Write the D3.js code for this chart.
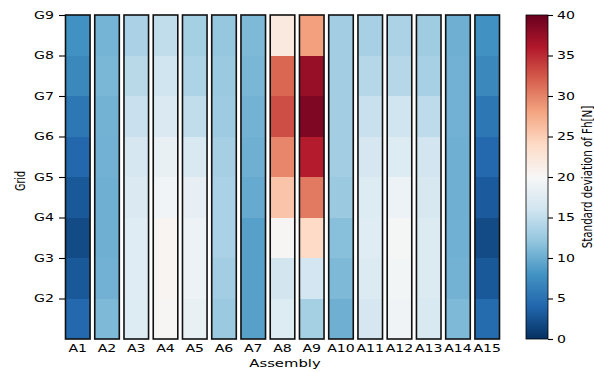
<!DOCTYPE html>
<html>
<head>
<meta charset="utf-8">
<script src="https://cdn.jsdelivr.net/npm/d3@7"></script>
<style>
  body { margin: 0; background: #fff; }
  text { font-family: "DejaVu Sans", sans-serif; fill: #000; }
</style>
</head>
<body>
<div id="chart"></div>
<script>
// assemblies along x, grids along y
var assemblies = ['A1', 'A2', 'A3', 'A4', 'A5', 'A6', 'A7', 'A8', 'A9', 'A10', 'A11', 'A12', 'A13', 'A14', 'A15'];
var gridTicks = [2, 3, 4, 5, 6, 7, 8, 9];
var cbarTicks = [0, 5, 10, 15, 20, 25, 30, 35, 40];

// std deviation per assembly, rows from bottom (G1-G2) to top (G8-G9)
var stdDev = [
  [4.3, 3.0, 2.0, 3.0, 4.2, 5.5, 7.0, 7.8],
  [11.0, 10.4, 10.2, 10.2, 10.4, 10.5, 10.8, 10.6],
  [17.3, 17.5, 17.5, 17.0, 16.5, 15.5, 14.5, 13.5],
  [20.3, 20.5, 20.5, 19.3, 18.5, 17.0, 16.0, 15.0],
  [18.5, 18.8, 18.8, 18.3, 16.8, 15.0, 13.7, 13.2],
  [12.5, 13.0, 13.5, 13.5, 13.3, 12.8, 12.5, 12.2],
  [9.0, 9.0, 9.0, 9.8, 10.2, 10.5, 10.8, 11.0],
  [17.3, 16.2, 20.3, 25.7, 29.8, 33.0, 31.6, 22.0],
  [13.2, 16.3, 24.0, 30.5, 35.8, 38.8, 37.5, 28.3],
  [10.2, 11.0, 11.5, 12.5, 13.0, 13.0, 13.0, 13.0],
  [16.5, 17.2, 17.5, 17.3, 16.5, 15.5, 14.2, 13.4],
  [19.2, 19.5, 19.7, 18.8, 17.3, 16.0, 14.3, 13.6],
  [16.8, 17.2, 17.2, 16.7, 16.1, 14.8, 13.4, 12.9],
  [11.0, 10.5, 10.3, 10.2, 10.2, 10.4, 10.4, 10.2],
  [4.5, 3.0, 2.0, 3.2, 4.3, 5.5, 7.0, 7.8]
];

var width = 594, height = 372;
var plotTop = 15, plotBottom = 339, plotLeft = 65.5, plotRight = 499.5;
var stretch = 1.41; // text in the picture is wider than tall

// RdBu_r
var rdbu = ['#053061', '#2166ac', '#4393c3', '#92c5de', '#d1e5f0', '#f7f7f7', '#fddbc7', '#f4a582', '#d6604d', '#b2182b', '#67001f'];
var color = d3.scaleLinear()
  .domain(d3.range(11).map(function (i) { return i * 4; }))
  .range(rdbu)
  .clamp(true);

var svg = d3.select('#chart').append('svg')
  .attr('width', width)
  .attr('height', height);

var x = d3.scaleBand()
  .domain(assemblies)
  .range([plotLeft, plotRight])
  .paddingInner(0.16)
  .paddingOuter(0);

var y = d3.scaleLinear()
  .domain([1, 9])
  .range([plotBottom, plotTop]);

// widen a text horizontally around its own anchor point
function widen(sel, size) {
  sel.each(function () {
    var t = d3.select(this);
    var tx = +t.attr('x') || 0;
    t.attr('font-size', size + 'px')
      .attr('font-family', 'DejaVu Sans')
      .attr('transform', 'translate(' + tx + ',0) scale(' + stretch + ',1) translate(' + (-tx) + ',0)');
  });
}

// cells
assemblies.forEach(function (a, i) {
  var g = svg.append('g');
  g.selectAll('rect')
    .data(stdDev[i])
    .enter().append('rect')
    .attr('x', x(a))
    .attr('width', x.bandwidth())
    .attr('y', function (d, k) { return y(k + 2); })
    .attr('height', function (d, k) { return y(k + 1) - y(k + 2); })
    .attr('fill', function (d) { return color(d); })
    .attr('shape-rendering', 'crispEdges');
  // outline of the column
  g.append('rect')
    .attr('x', x(a))
    .attr('y', y(9))
    .attr('width', x.bandwidth())
    .attr('height', y(1) - y(9))
    .attr('fill', 'none')
    .attr('stroke', '#111')
    .attr('stroke-width', 1.6);
});

// y axis
var yAxisG = svg.append('g')
  .attr('transform', 'translate(' + (plotLeft - 0.5) + ',0)')
  .call(d3.axisLeft(y).tickValues(gridTicks).tickSize(6).tickPadding(5)
    .tickFormat(function (d) { return 'G' + d; }));
yAxisG.select('.domain').remove();
yAxisG.selectAll('line').attr('stroke-width', 1.1);
yAxisG.selectAll('text').call(widen, 10);

// x axis labels
var xAxisG = svg.append('g')
  .attr('transform', 'translate(0,' + plotBottom + ')')
  .call(d3.axisBottom(x).tickSize(0).tickPadding(6));
xAxisG.select('.domain').remove();
xAxisG.selectAll('.tick text').each(function () {
  d3.select(this).attr('transform', 'scale(' + stretch + ',1)')
    .attr('font-size', '10px').attr('font-family', 'DejaVu Sans');
});

svg.append('text')
  .attr('transform', 'translate(285,367) scale(' + stretch + ',1)')
  .attr('text-anchor', 'middle')
  .attr('font-size', '10.5px')
  .text('Assembly');

svg.append('text')
  .attr('transform', 'translate(25,181) scale(' + stretch + ',1) rotate(-90)')
  .attr('text-anchor', 'middle')
  .attr('font-size', '9.5px')
  .text('Grid');

// colorbar
var cbX = 526, cbW = 22;
var cb = d3.scaleLinear().domain([0, 40]).range([plotBottom, plotTop]);
var defs = svg.append('defs');
var grad = defs.append('linearGradient')
  .attr('id', 'cbgrad')
  .attr('x1', 0).attr('y1', 1).attr('x2', 0).attr('y2', 0);
grad.selectAll('stop')
  .data(color.domain())
  .enter().append('stop')
  .attr('offset', function (d) { return d / 40; })
  .attr('stop-color', function (d) { return color(d); });
svg.append('rect')
  .attr('x', cbX)
  .attr('y', plotTop)
  .attr('width', cbW)
  .attr('height', plotBottom - plotTop)
  .attr('fill', 'url(#cbgrad)')
  .attr('stroke', '#000')
  .attr('stroke-width', 0.8);

var cbAxisG = svg.append('g')
  .attr('transform', 'translate(' + (cbX + cbW) + ',0)')
  .call(d3.axisRight(cb).tickValues(cbarTicks).tickSize(5).tickPadding(4));
cbAxisG.select('.domain').remove();
cbAxisG.selectAll('line').attr('stroke-width', 1.1);
cbAxisG.selectAll('text').call(widen, 10);

svg.append('text')
  .attr('transform', 'translate(592,' + ((plotTop + plotBottom) / 2) + ') scale(' + stretch + ',1) rotate(-90)')
  .attr('text-anchor', 'middle')
  .attr('font-size', '10.3px')
  .text('Standard deviation of Fh[N]');
</script>
</body>
</html>
